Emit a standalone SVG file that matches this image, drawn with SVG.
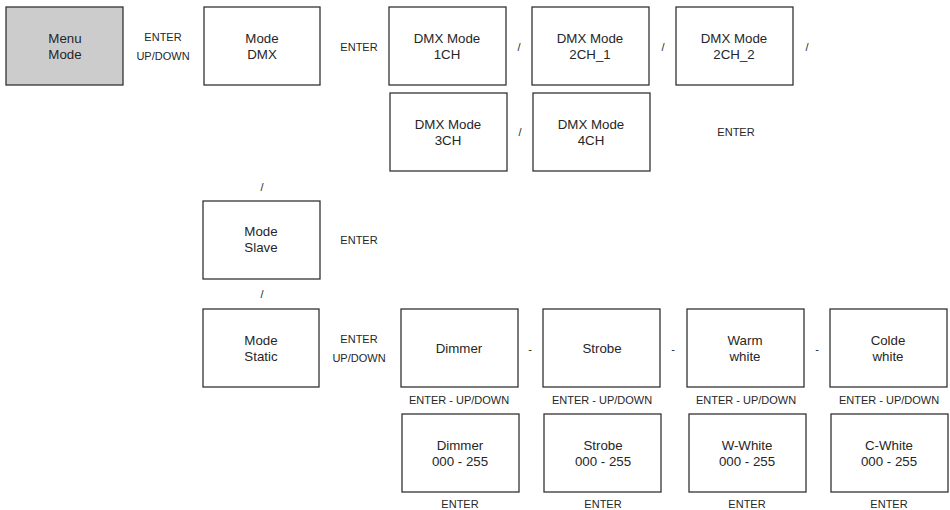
<svg xmlns="http://www.w3.org/2000/svg" width="950" height="510" viewBox="0 0 950 510">
<style>
.box{fill:#ffffff;stroke:#333333;stroke-width:1.3}
.grey{fill:#cccccc}
.t{font-family:"Liberation Sans",Arial,sans-serif;font-size:13.3px;fill:#262626;text-anchor:middle}
.l{font-family:"Liberation Sans",Arial,sans-serif;font-size:11px;fill:#262626;text-anchor:middle}
</style>
<rect width="950" height="510" fill="#ffffff"/>
<g id="menu-mode"><rect class="box grey" x="6" y="7" width="117" height="78"/><text class="t" x="65" y="43">Menu</text><text class="t" x="65" y="59">Mode</text></g>
<g id="mode-dmx"><rect class="box" x="204" y="7" width="116" height="78"/><text class="t" x="262" y="43">Mode</text><text class="t" x="262" y="59">DMX</text></g>
<g id="dmx-1ch"><rect class="box" x="389" y="7" width="117" height="78"/><text class="t" x="447" y="43">DMX Mode</text><text class="t" x="447" y="59">1CH</text></g>
<g id="dmx-2ch1"><rect class="box" x="532" y="7" width="117" height="78"/><text class="t" x="590" y="43">DMX Mode</text><text class="t" x="590" y="59">2CH_1</text></g>
<g id="dmx-2ch2"><rect class="box" x="676" y="7" width="117" height="78"/><text class="t" x="734" y="43">DMX Mode</text><text class="t" x="734" y="59">2CH_2</text></g>
<g id="dmx-3ch"><rect class="box" x="390" y="93" width="117" height="78"/><text class="t" x="448" y="129">DMX Mode</text><text class="t" x="448" y="145">3CH</text></g>
<g id="dmx-4ch"><rect class="box" x="533" y="93" width="117" height="78"/><text class="t" x="591" y="129">DMX Mode</text><text class="t" x="591" y="145">4CH</text></g>
<g id="mode-slave"><rect class="box" x="203" y="201" width="117" height="78"/><text class="t" x="261" y="236">Mode</text><text class="t" x="261" y="252">Slave</text></g>
<g id="mode-static"><rect class="box" x="203" y="309" width="116" height="78"/><text class="t" x="261" y="345">Mode</text><text class="t" x="261" y="361">Static</text></g>
<g id="dimmer"><rect class="box" x="401" y="309" width="117" height="78"/><text class="t" x="459" y="353">Dimmer</text></g>
<g id="strobe"><rect class="box" x="543" y="309" width="117" height="78"/><text class="t" x="602" y="353">Strobe</text></g>
<g id="warm-white"><rect class="box" x="687" y="309" width="117" height="78"/><text class="t" x="745" y="345">Warm</text><text class="t" x="745" y="361">white</text></g>
<g id="colde-white"><rect class="box" x="830" y="309" width="117" height="78"/><text class="t" x="888" y="345">Colde</text><text class="t" x="888" y="361">white</text></g>
<g id="dimmer-val"><rect class="box" x="402" y="414" width="117" height="78"/><text class="t" x="460" y="450">Dimmer</text><text class="t" x="460" y="466">000 - 255</text></g>
<g id="strobe-val"><rect class="box" x="544" y="414" width="117" height="78"/><text class="t" x="603" y="450">Strobe</text><text class="t" x="603" y="466">000 - 255</text></g>
<g id="wwhite-val"><rect class="box" x="689" y="414" width="117" height="78"/><text class="t" x="747" y="450">W-White</text><text class="t" x="747" y="466">000 - 255</text></g>
<g id="cwhite-val"><rect class="box" x="831" y="414" width="117" height="78"/><text class="t" x="889" y="450">C-White</text><text class="t" x="889" y="466">000 - 255</text></g>
<g id="connectors">
<text class="l" x="163" y="41">ENTER</text><text class="l" x="163" y="60">UP/DOWN</text>
<text class="l" x="359" y="51">ENTER</text>
<text class="l" x="519" y="51">/</text><text class="l" x="663" y="51">/</text><text class="l" x="807" y="51">/</text>
<text class="l" x="520" y="136">/</text>
<text class="l" x="736" y="136">ENTER</text>
<text class="l" x="262" y="191">/</text>
<text class="l" x="359" y="244">ENTER</text>
<text class="l" x="262" y="298">/</text>
<text class="l" x="359" y="343">ENTER</text><text class="l" x="359" y="362">UP/DOWN</text>
<text class="l" x="530" y="353">-</text><text class="l" x="673" y="353">-</text><text class="l" x="817" y="353">-</text>
<text class="l" x="459" y="404">ENTER - UP/DOWN</text><text class="l" x="602" y="404">ENTER - UP/DOWN</text><text class="l" x="746" y="404">ENTER - UP/DOWN</text><text class="l" x="889" y="404">ENTER - UP/DOWN</text>
<text class="l" x="460" y="508">ENTER</text><text class="l" x="603" y="508">ENTER</text><text class="l" x="747" y="508">ENTER</text><text class="l" x="889" y="508">ENTER</text>
</g>
</svg>
